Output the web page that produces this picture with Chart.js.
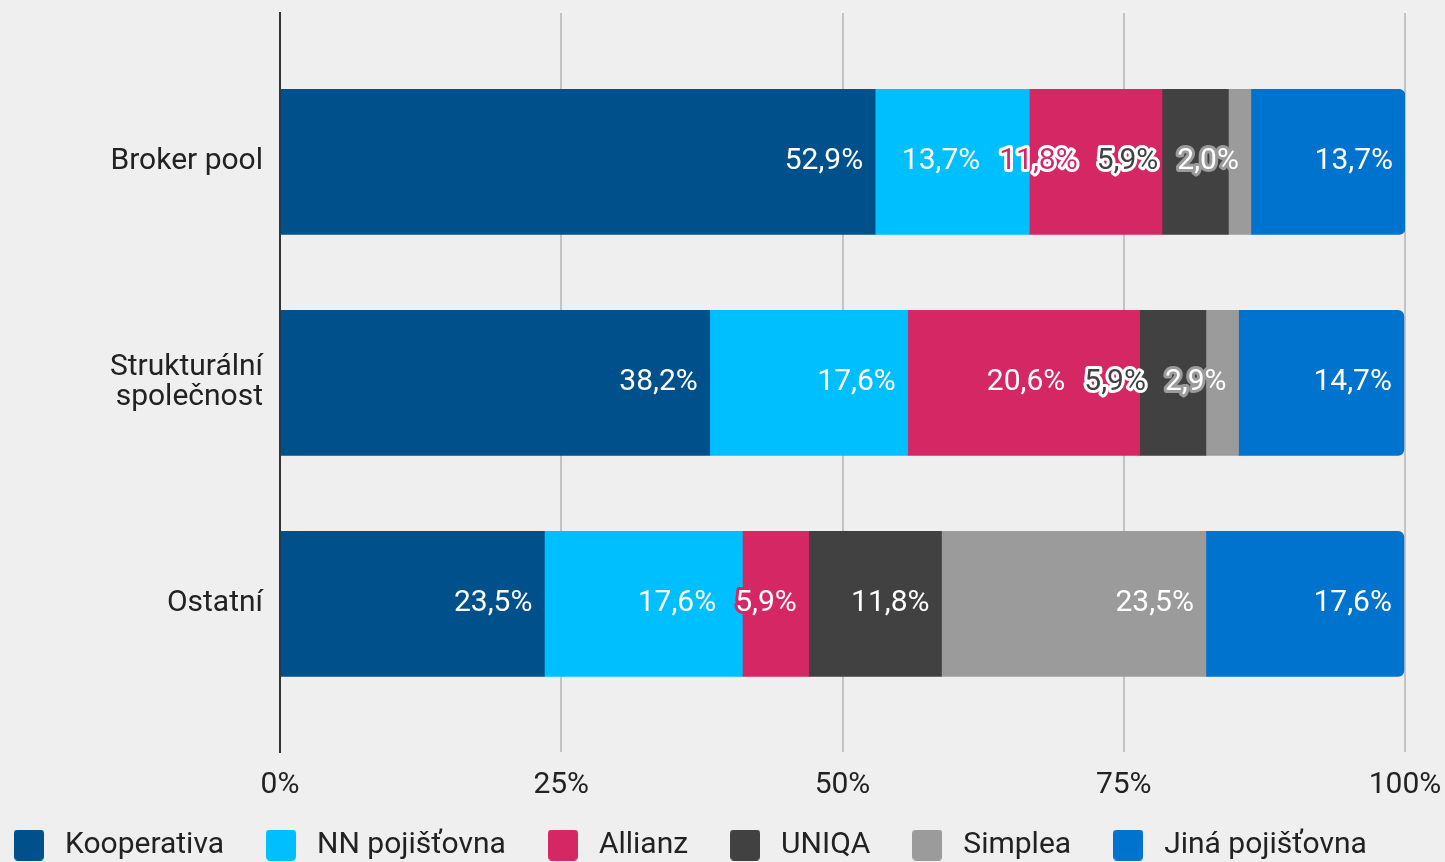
<!DOCTYPE html>
<html lang="cs">
<head>
<meta charset="utf-8">
<title>Pojišťovny podle typu sítě</title>
<script src="https://cdn.jsdelivr.net/npm/chart.js@4.4.1/dist/chart.umd.min.js"></script>
<style>
  html, body { margin: 0; padding: 0; background: #efefef; }
  #chart { display: block; }
</style>
</head>
<body>
<canvas id="chart" width="1445" height="862"></canvas>
<script>
"use strict";

const categories = ["Broker pool", ["Strukturální", "společnost"], "Ostatní"];
const insurers = ["Kooperativa", "NN pojišťovna", "Allianz", "UNIQA", "Simplea", "Jiná pojišťovna"];
const colors = ["#00508b", "#00bfff", "#d62765", "#414141", "#9b9b9b", "#0073cf"];

const kooperativa = [52.9, 38.2, 23.5];
const nnPojistovna = [13.7, 17.6, 17.6];
const allianz = [11.8, 20.6, 5.9];
const uniqa = [5.9, 5.9, 11.8];
const simplea = [2.0, 2.9, 23.5];
const jina = [13.7, 14.7, 17.6];
const series = [kooperativa, nnPojistovna, allianz, uniqa, simplea, jina];

const xTicks = [0, 25, 50, 75, 100];

const family = "Roboto, 'Noto Sans', sans-serif";
const textColor = "#222222";

const fmt = (v) => v.toFixed(1).replace(".", ",") + "%";

const isLight = (hex) => {
  const r = parseInt(hex.slice(1, 3), 16);
  const g = parseInt(hex.slice(3, 5), 16);
  const b = parseInt(hex.slice(5, 7), 16);
  return (0.299 * r + 0.587 * g + 0.114 * b) / 255 > 0.5;
};

// little rounded squares for the legend
const makeSwatch = (color) => {
  const c = document.createElement("canvas");
  c.width = 30;
  c.height = 31;
  const g = c.getContext("2d");
  g.fillStyle = color;
  g.beginPath();
  g.roundRect(0, 0, 30, 31, 4);
  g.fill();
  return c;
};
const swatches = colors.map(makeSwatch);

// labels sit at the end of each segment, pushed left when they collide,
// and get a halo when they spill over their segment
const barLabels = {
  id: "barLabels",
  afterDatasetsDraw(chart) {
    const ctx = chart.ctx;
    ctx.save();
    ctx.font = "30px " + family;
    ctx.textAlign = "right";
    ctx.textBaseline = "middle";
    ctx.lineJoin = "round";
    categories.forEach((cat, j) => {
      let limit = Infinity;
      for (let i = series.length - 1; i >= 0; i--) {
        const bar = chart.getDatasetMeta(i).data[j];
        const text = fmt(series[i][j]);
        const w = ctx.measureText(text).width;
        const right = Math.min(bar.x - 12, limit);
        const left = right - w;
        limit = left - 19;
        const over = Math.max(0, bar.base - left) + Math.max(0, right - bar.x);
        if (over > 0) {
          const swap = over > 0.3 * w && !isLight(colors[i]);
          ctx.lineWidth = 6;
          ctx.strokeStyle = swap ? "#ffffff" : colors[i];
          ctx.fillStyle = swap ? colors[i] : "#ffffff";
          ctx.strokeText(text, right, bar.y);
        } else {
          ctx.fillStyle = "#ffffff";
        }
        ctx.fillText(text, right, bar.y);
      }
    });
    ctx.restore();
  },
};

const datasets = insurers.map((name, i) => ({
  label: name,
  data: series[i].map((v, j) => ({ x: v, y: j })),
  backgroundColor: colors[i],
  borderWidth: 0,
  barThickness: 145,
  borderRadius: i === insurers.length - 1 ? 6 : 0,
}));

new Chart(document.getElementById("chart"), {
  type: "bar",
  data: { datasets },
  plugins: [barLabels],
  options: {
    responsive: false,
    animation: false,
    events: [],
    indexAxis: "y",
    layout: { padding: { top: 13, right: 40, bottom: -8, left: -28 } },
    scales: {
      x: {
        type: "linear",
        stacked: true,
        min: 0,
        max: 100,
        grid: {
          color: (c) => (c.tick && c.tick.value === 0 ? "rgba(0,0,0,0)" : "#c3c3c3"),
          lineWidth: 2,
          drawTicks: false,
        },
        border: { display: false },
        ticks: {
          padding: 15,
          color: textColor,
          font: { size: 30, family },
          callback: (v) => v + "%",
        },
        afterBuildTicks: (axis) => {
          axis.ticks = xTicks.map((v) => ({ value: v }));
        },
        afterFit: (axis) => {
          axis.height = 42;
          axis.paddingLeft = 0;
          axis.paddingRight = 0;
        },
      },
      y: {
        type: "linear",
        reverse: true,
        stacked: true,
        offset: false,
        min: -0.674,
        max: 2.67,
        grid: { display: false, drawTicks: false },
        border: { display: true, color: "#333333", width: 2 },
        ticks: {
          padding: 17,
          color: textColor,
          font: { size: 30, family, lineHeight: 1 },
          callback: (v) => categories[v],
        },
        afterBuildTicks: (axis) => {
          axis.ticks = categories.map((c, i) => ({ value: i }));
        },
        afterFit: (axis) => {
          axis.width = 308;
          axis.paddingTop = 0;
          axis.paddingBottom = 0;
        },
      },
    },
    plugins: {
      tooltip: { enabled: false },
      legend: {
        position: "bottom",
        align: "start",
        labels: {
          usePointStyle: true,
          pointStyleWidth: 42,
          padding: 36,
          color: textColor,
          font: { size: 30, family },
          generateLabels: (chart) =>
            Chart.defaults.plugins.legend.labels
              .generateLabels(chart)
              .map((item, i) => ({ ...item, pointStyle: swatches[i] })),
        },
      },
    },
  },
});
</script>
</body>
</html>
